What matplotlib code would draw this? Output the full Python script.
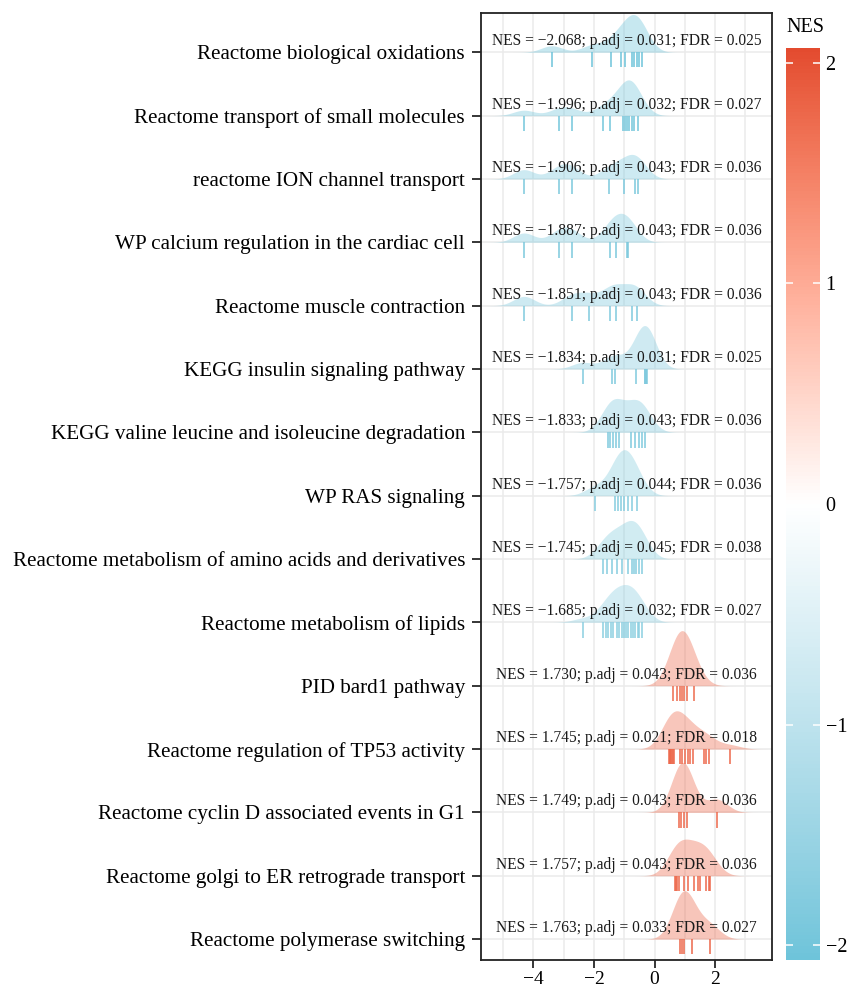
import numpy as np
import matplotlib
matplotlib.use("Agg")
import matplotlib.pyplot as plt
from matplotlib.colors import ListedColormap, Normalize
from matplotlib.cm import ScalarMappable
from matplotlib.transforms import blended_transform_factory

plt.rcParams["font.family"] = ["Liberation Serif", "DejaVu Serif"]

# pathways, top to bottom
pathways = [
    "Reactome biological oxidations",
    "Reactome transport of small molecules",
    "reactome ION channel transport",
    "WP calcium regulation in the cardiac cell",
    "Reactome muscle contraction",
    "KEGG insulin signaling pathway",
    "KEGG valine leucine and isoleucine degradation",
    "WP RAS signaling",
    "Reactome metabolism of amino acids and derivatives",
    "Reactome metabolism of lipids",
    "PID bard1 pathway",
    "Reactome regulation of TP53 activity",
    "Reactome cyclin D associated events in G1",
    "Reactome golgi to ER retrograde transport",
    "Reactome polymerase switching",
]
nes = [-2.068, -1.996, -1.906, -1.887, -1.851, -1.834, -1.833, -1.757,
       -1.745, -1.685, 1.730, 1.745, 1.749, 1.757, 1.763]
padj = [0.031, 0.032, 0.043, 0.043, 0.043, 0.031, 0.043, 0.044,
        0.045, 0.032, 0.043, 0.021, 0.043, 0.043, 0.033]
fdr = [0.025, 0.027, 0.036, 0.036, 0.036, 0.025, 0.036, 0.036,
       0.038, 0.027, 0.036, 0.018, 0.036, 0.036, 0.027]

# core gene values for each pathway
genes_oxid = [-3.39, -2.07, -1.44, -1.11, -0.97, -0.75, -0.67, -0.58, -0.50, -0.40]
genes_small = [-4.31, -3.17, -2.73, -1.69, -1.46, -1.04, -0.97, -0.91, -0.83, -0.75, -0.67, -0.56]
genes_ion = [-4.31, -3.17, -2.73, -1.49, -1.02, -0.63, -0.56]
genes_calcium = [-4.31, -3.15, -2.72, -1.46, -1.28, -0.91, -0.87]
genes_muscle = [-4.31, -2.73, -2.16, -1.46, -1.28, -0.73, -0.58]
genes_insulin = [-2.37, -1.39, -1.30, -0.61, -0.31, -0.30, -0.29, -0.28, -0.27, -0.26]
genes_valine = [-1.55, -1.46, -1.38, -1.28, -1.16, -0.77, -0.64, -0.50, -0.42, -0.33]
genes_ras = [-1.96, -1.30, -1.19, -1.11, -1.02, -0.86, -0.73, -0.58]
genes_amino = [-1.71, -1.57, -1.41, -1.24, -1.08, -0.86, -0.75, -0.69, -0.60, -0.50, -0.42]
genes_lipids = [-2.37, -1.69, -1.60, -1.52, -1.44, -1.36, -1.24, -1.16, -1.08, -1.00,
                -0.94, -0.86, -0.78, -0.71, -0.64, -0.56, -0.50, -0.42]
genes_bard1 = [0.61, 0.74, 0.85, 0.92, 0.98, 1.07, 1.32]
genes_tp53 = [0.47, 0.50, 0.52, 0.55, 0.58, 0.61, 0.63, 0.85, 0.91, 1.01, 1.09, 1.18,
              1.27, 1.62, 1.71, 1.80, 2.50]
genes_cyclin = [0.82, 0.87, 0.98, 1.07, 2.06]
genes_golgi = [0.68, 0.70, 0.74, 0.82, 0.96, 1.10, 1.29, 1.42, 1.49, 1.71, 1.79, 1.84]
genes_polymerase = [0.85, 0.91, 0.98, 1.24, 1.82]

gene_sets = [genes_oxid, genes_small, genes_ion, genes_calcium, genes_muscle,
             genes_insulin, genes_valine, genes_ras, genes_amino, genes_lipids,
             genes_bard1, genes_tp53, genes_cyclin, genes_golgi, genes_polymerase]


# diverging palette interpolated in Lab, like ggplot's gradient2
def srgb_to_lab(rgb):
    c = np.asarray(rgb, float)
    lin = np.where(c <= 0.04045, c / 12.92, ((c + 0.055) / 1.055) ** 2.4)
    m = np.array([[0.4124, 0.3576, 0.1805], [0.2126, 0.7152, 0.0722], [0.0193, 0.1192, 0.9505]])
    xyz = m @ lin / np.array([0.95047, 1.0, 1.08883])
    f = np.where(xyz > 0.008856, np.cbrt(xyz), 7.787 * xyz + 16 / 116)
    return np.array([116 * f[1] - 16, 500 * (f[0] - f[1]), 200 * (f[1] - f[2])])


def lab_to_srgb(lab):
    L, a, b = lab
    fy = (L + 16) / 116
    fx = fy + a / 500
    fz = fy - b / 200
    f = np.array([fx, fy, fz])
    xyz = np.where(f ** 3 > 0.008856, f ** 3, (f - 16 / 116) / 7.787) * np.array([0.95047, 1.0, 1.08883])
    minv = np.linalg.inv(np.array([[0.4124, 0.3576, 0.1805], [0.2126, 0.7152, 0.0722], [0.0193, 0.1192, 0.9505]]))
    lin = np.clip(minv @ xyz, 0, 1)
    c = np.where(lin <= 0.0031308, 12.92 * lin, 1.055 * lin ** (1 / 2.4) - 0.055)
    return np.clip(c, 0, 1)


low = srgb_to_lab(matplotlib.colors.to_rgb("#6EC4DA"))
mid = srgb_to_lab((1.0, 1.0, 1.0))
high = srgb_to_lab(matplotlib.colors.to_rgb("#E34B2F"))
cols = []
for t in np.linspace(0, 1, 256):
    if t < 0.5:
        lab = low + (mid - low) * (t / 0.5)
    else:
        lab = mid + (high - mid) * ((t - 0.5) / 0.5)
    cols.append(lab_to_srgb(lab))
cmap = ListedColormap(cols)
lim = max(abs(v) for v in nes)
norm = Normalize(-lim, lim)

fig = plt.figure(figsize=(8.5, 9.93), dpi=100)
ax = fig.add_axes([481 / 850, 33 / 993, 291 / 850, 947 / 993])

n = len(pathways)
xs = np.linspace(-6, 4.5, 800)
bw = 0.35
dens = []
for g in gene_sets:
    g = np.asarray(g)
    d = np.exp(-0.5 * ((xs[:, None] - g[None, :]) / bw) ** 2).sum(axis=1)
    dens.append(d / (len(g) * bw * np.sqrt(2 * np.pi)))
dmax = max(d.max() for d in dens)
scale = 0.87

for x in range(-5, 4):
    ax.axvline(x, color="#EBEBEB", lw=1.1, zorder=0)
for i in range(n):
    ax.axhline(n - 1 - i, color="#EBEBEB", lw=1.1, zorder=0)

trans = blended_transform_factory(ax.transAxes, ax.transData)
for i in range(n):
    y0 = n - 1 - i
    c = cmap(norm(nes[i]))
    h = dens[i] / dmax * scale
    ax.fill_between(xs, y0, y0 + h, color=c, alpha=0.38, lw=0, zorder=2 + i)
    ax.vlines(gene_sets[i], y0 - 0.24, y0, colors=[c], lw=1.3, alpha=0.85, zorder=2 + i)
    label = "NES = {:.3f}; p.adj = {:.3f}; FDR = {:.3f}".format(nes[i], padj[i], fdr[i]).replace("-", "\u2212")
    ax.text(0.5, y0 + 0.11, label, transform=trans, ha="center", va="baseline",
            fontsize=11.2, color="#1A1A1A", zorder=30)

ax.set_xlim(-5.73, 3.88)
ax.set_ylim(-0.33, n - 1 + 0.62)
ax.set_xticks([-4, -2, 0, 2])
ax.set_xticklabels(["\u22124", "\u22122", "0", "2"])
ax.set_yticks([n - 1 - i for i in range(n)])
ax.set_yticklabels(pathways)
ax.tick_params(axis="y", labelsize=15.2, length=6.5, width=1.1, pad=5, colors="black")
ax.tick_params(axis="x", labelsize=14, length=6, width=1.1, pad=2, colors="black")
for s in ax.spines.values():
    s.set_linewidth(1.3)
    s.set_color("#222222")

# colour bar
cax = fig.add_axes([786 / 850, 33 / 993, 34 / 850, 912 / 993])
cb = fig.colorbar(ScalarMappable(norm=norm, cmap=cmap), cax=cax)
cb.outline.set_visible(False)
cb.set_ticks([-2, -1, 0, 1, 2])
cb.set_ticklabels(["\u22122", "\u22121", "0", "1", "2"])
cax.yaxis.set_ticks_position("both")
cax.tick_params(direction="in", length=5, width=1.1, color="white", labelsize=14.5,
                labelright=True, labelleft=False, pad=4)
fig.text(786 / 850, 1 - 28 / 993, "NES", fontsize=14.5, va="center", ha="left")

fig.savefig("out.png", dpi=100)
